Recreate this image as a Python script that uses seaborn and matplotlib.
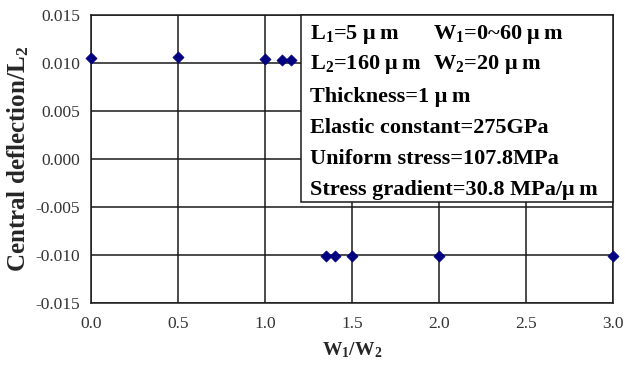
import matplotlib
matplotlib.use("Agg")
import matplotlib.pyplot as plt
from matplotlib.patches import Rectangle
import pandas as pd
import seaborn as sns

# Width ratio W1/W2 and normalised central deflection
width_ratio = [0.0, 0.5, 1.0, 1.1, 1.15, 1.35, 1.4, 1.5, 2.0, 3.0]
deflection = [0.01049, 0.01063, 0.01045, 0.01028, 0.01028,
              -0.0101, -0.0101, -0.0101, -0.0101, -0.0101]

x_ticks = [0.0, 0.5, 1.0, 1.5, 2.0, 2.5, 3.0]
y_ticks = [-0.015, -0.010, -0.005, 0.000, 0.005, 0.010, 0.015]

UM = "μ\u2009m"
param_left = [rf"$L_1$=5 {UM}", rf"$L_2$=160 {UM}", f"Thickness=1 {UM}",
              "Elastic constant=275GPa", "Uniform stress=107.8MPa",
              f"Stress gradient=30.8 MPa/{UM}"]
param_right = [rf"$W_1$=0~60 {UM}", rf"$W_2$=20 {UM}"]

df = pd.DataFrame({"ratio": width_ratio, "deflection": deflection})

sns.set_style("white")
plt.rcParams["font.family"] = ["Liberation Serif", "DejaVu Serif"]
plt.rcParams["mathtext.fontset"] = "custom"
plt.rcParams["mathtext.rm"] = "Liberation Serif:bold"
plt.rcParams["mathtext.it"] = "Liberation Serif:bold"
plt.rcParams["mathtext.bf"] = "Liberation Serif:bold"
plt.rcParams["mathtext.default"] = "rm"

fig = plt.figure(figsize=(6.25, 3.65), dpi=100)
ax = fig.add_axes([91 / 625, 1 - 303 / 365, 522 / 625, 288 / 365])

sns.scatterplot(data=df, x="ratio", y="deflection", ax=ax, marker="D",
                s=32, color="#000080", edgecolor="#000080", linewidth=0.5,
                zorder=5, clip_on=False)

ax.set_xlim(0, 3.0)
ax.set_ylim(-0.015, 0.015)
ax.set_xticks(x_ticks)
ax.set_yticks(y_ticks)
ax.set_xticklabels([f"{v:.1f}" for v in x_ticks])
ax.set_yticklabels([f"{v:.3f}" for v in y_ticks])
ax.tick_params(axis="both", length=0, labelsize=12.5, labelcolor="#333333")
ax.tick_params(axis="y", pad=8)
ax.tick_params(axis="x", pad=9)

ax.grid(True, color="#1a1a1a", linewidth=1.1)
ax.set_axisbelow(True)
for sp in ax.spines.values():
    sp.set_visible(True)
    sp.set_color("#1a1a1a")
    sp.set_linewidth(1.1)

ax.set_xlabel(r"$W_1/W_2$", fontsize=14, fontweight="bold", labelpad=6)
ax.set_ylabel(r"Central deflection/$L_2$", fontsize=18, fontweight="bold",
              labelpad=3)

# Parameter box in the upper right corner
x0 = (301 - 91) / 522
y0 = (303 - 202) / 288
ax.add_patch(Rectangle((x0, y0), 1 - x0, 1 - y0, transform=ax.transAxes,
                       facecolor="white", edgecolor="#1a1a1a", linewidth=1.1,
                       zorder=4, clip_on=False))

rows_px = [34, 65, 97, 128, 159, 190]
for py, txt in zip(rows_px, param_left):
    ax.text((310 - 91) / 522, (303 - py) / 288, txt, transform=ax.transAxes,
            fontsize=16, fontweight="bold", va="center", ha="left",
            color="black", zorder=6)
for py, txt in zip(rows_px, param_right):
    ax.text((433 - 91) / 522, (303 - py) / 288, txt, transform=ax.transAxes,
            fontsize=16, fontweight="bold", va="center", ha="left",
            color="black", zorder=6)

fig.savefig("out.png", dpi=100)
